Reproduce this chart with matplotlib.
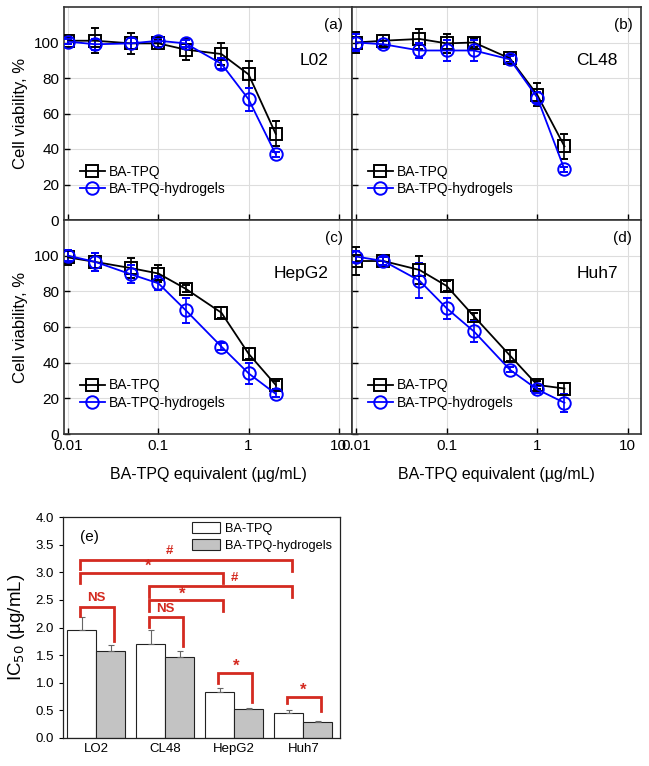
import numpy as np
import matplotlib
matplotlib.use("Agg")
import matplotlib.pyplot as plt
from matplotlib.lines import Line2D
from matplotlib.ticker import FixedLocator, FixedFormatter

plt.rcParams['font.family'] = ['Liberation Sans', 'DejaVu Sans']

# ---- viability data ----
conc = [0.01, 0.02, 0.05, 0.1, 0.2, 0.5, 1, 2]

cells = ["L02", "CL48", "HepG2", "Huh7"]
tags = ["(a)", "(b)", "(c)", "(d)"]

tpq_mean = [
    [101, 101, 99.5, 99.5, 96, 93.5, 82, 48.5],
    [100, 101, 102, 99.5, 100, 91, 70.5, 41.5],
    [99, 96.5, 93, 90, 81.5, 68, 45, 27.5],
    [97, 97, 92, 83, 66, 44, 27.5, 25.5],
]
tpq_err = [
    [2, 7, 6, 2, 6, 6, 7.5, 7],
    [6, 3, 5.5, 5.5, 2.5, 2, 6.5, 7],
    [4, 5, 5.5, 5, 2, 3, 3, 2],
    [8, 2, 8, 3, 2, 3, 2, 3],
]
gel_mean = [
    [100.5, 99, 99.5, 101, 99.5, 88, 68, 37],
    [100, 99, 95.5, 95.5, 95.5, 90.5, 69, 28.5],
    [100, 96.5, 89.5, 84.5, 69.5, 49, 34, 22.5],
    [99.5, 97, 86, 70.5, 57.5, 36, 25, 17.5],
]
gel_err = [
    [1.5, 3, 3, 1.5, 2, 3, 6.5, 1.5],
    [5, 2, 4, 6, 6, 2, 3, 1.5],
    [3, 5, 5, 4, 7, 2, 6, 2],
    [3, 2, 10, 6, 6, 1.5, 2, 5],
]

# ---- IC50 data ----
lines_e = ["LO2", "CL48", "HepG2", "Huh7"]
ic50_tpq = [1.95, 1.71, 0.84, 0.46]
ic50_tpq_err = [0.24, 0.25, 0.07, 0.04]
ic50_gel = [1.58, 1.47, 0.53, 0.29]
ic50_gel_err = [0.10, 0.11, 0.02, 0.01]

# significance brackets: (group_a, bar_a, group_b, bar_b, top, left_end, right_end, label_x, label)
brackets = [
    (0, 0, 3, 0, 3.23, 3.05, 3.03, 1.06, "#"),
    (0, 0, 2, 0, 2.99, 2.80, 2.80, 0.75, "*"),
    (1, 0, 3, 0, 2.75, 2.56, 2.55, 2.00, "#"),
    (1, 0, 2, 0, 2.49, 2.29, 2.29, 1.25, "*"),
    (0, 0, 0, 1, 2.38, 2.20, 1.75, 0.00, "NS"),
    (1, 0, 1, 1, 2.19, 2.01, 1.66, 1.00, "NS"),
    (2, 0, 2, 1, 1.18, 1.00, 0.66, 2.03, "*"),
    (3, 0, 3, 1, 0.75, 0.63, 0.48, 3.00, "*"),
]

fig = plt.figure(figsize=(6.49, 7.66), dpi=100)

L, M, R = 64 / 649, 352 / 649, 641 / 649
T, MID, B = 1 - 7 / 766, 1 - 220 / 766, 1 - 434 / 766
boxes = [
    [L, MID, M - L, T - MID],
    [M, MID, R - M, T - MID],
    [L, B, M - L, MID - B],
    [M, B, R - M, MID - B],
]

style_tpq = dict(color="black", marker="s", ms=8.5, mfc="none", mew=1.4, lw=1.3)
style_gel = dict(color="#0000ff", marker="o", ms=9, mfc="none", mew=1.4, lw=1.3)

for k, box in enumerate(boxes):
    ax = fig.add_axes(box)
    ax.errorbar(conc, tpq_mean[k], yerr=tpq_err[k], capsize=3, elinewidth=1.2,
                capthick=1.2, zorder=3, **style_tpq)
    ax.errorbar(conc, gel_mean[k], yerr=gel_err[k], capsize=3, elinewidth=1.2,
                capthick=1.2, zorder=3, **style_gel)
    ax.set_xscale("log")
    ax.set_xlim(0.009, 14)
    ax.set_ylim(0, 120)
    ax.xaxis.set_major_locator(FixedLocator([0.01, 0.1, 1, 10]))
    ax.xaxis.set_minor_locator(FixedLocator([]))
    ax.set_yticks([0, 20, 40, 60, 80, 100])
    ax.grid(True, color="#dddddd", lw=0.8, zorder=0)
    ax.tick_params(direction="in", length=4, labelsize=11, width=1)
    for s in ax.spines.values():
        s.set_color("#333333")
        s.set_linewidth(1.2)
    if k in (0, 2):
        ax.set_ylabel("Cell viability, %", fontsize=12, labelpad=4)
    else:
        ax.tick_params(labelleft=False)
    if k in (2, 3):
        ax.xaxis.set_major_formatter(FixedFormatter(["0.01", "0.1", "1", "10"]))
        ax.set_xlabel("BA-TPQ equivalent (µg/mL)", fontsize=11.5, labelpad=10)
    else:
        ax.tick_params(labelbottom=False)
    ax.text(0.97, 0.95, tags[k], transform=ax.transAxes, ha="right", va="top", fontsize=11)
    ax.text(0.92, 0.75, cells[k], transform=ax.transAxes, ha="right", va="center", fontsize=12.5)
    handles = [Line2D([], [], **style_tpq), Line2D([], [], **style_gel)]
    ax.legend(handles, ["BA-TPQ", "BA-TPQ-hydrogels"], loc="lower left",
              bbox_to_anchor=(0.03, 0.08), frameon=False, fontsize=10,
              handlelength=1.8, handletextpad=0.3, labelspacing=0.25, borderpad=0)

# ---- panel (e) ----
axe = fig.add_axes([63 / 649, 1 - 738 / 766, (340 - 63) / 649, (738 - 517) / 766])
x = np.arange(len(lines_e))
w = 0.42
off = [-w / 2, w / 2]
axe.bar(x - w / 2, ic50_tpq, w, color="white", edgecolor="#222222", lw=0.8,
        label="BA-TPQ", zorder=2)
axe.bar(x + w / 2, ic50_gel, w, color="#c3c3c3", edgecolor="#222222", lw=0.8,
        label="BA-TPQ-hydrogels", zorder=2)
axe.errorbar(x - w / 2, ic50_tpq, yerr=[np.zeros(4), ic50_tpq_err], fmt="none",
             ecolor="#666666", elinewidth=0.8, capsize=2, capthick=0.8, zorder=3)
axe.errorbar(x + w / 2, ic50_gel, yerr=[np.zeros(4), ic50_gel_err], fmt="none",
             ecolor="#666666", elinewidth=0.8, capsize=2, capthick=0.8, zorder=3)

red = "#d42a20"
for ga, ba, gb, bb, top, yl, yr, lx, lab in brackets:
    xa = ga + off[ba] - 0.03
    xb = gb + off[bb] + 0.05
    axe.plot([xa, xa, xb, xb], [yl, top, top, yr], color=red, lw=2,
             solid_joinstyle="miter", zorder=4)
    if lab == "*":
        axe.text(lx, top - 0.02, lab, color=red, fontsize=12, fontweight="bold",
                 ha="center", va="bottom")
    else:
        axe.text(lx, top + 0.04, lab, color=red, fontsize=9.5, fontweight="bold",
                 ha="center", va="bottom")

axe.set_xlim(-0.48, 3.53)
axe.set_ylim(0, 4.0)
axe.set_yticks(np.arange(0, 4.01, 0.5))
axe.set_yticklabels([f"{v:.1f}" for v in np.arange(0, 4.01, 0.5)])
axe.set_xticks(x)
axe.set_xticklabels(lines_e)
axe.tick_params(axis="both", labelsize=9.5, length=3, width=0.8)
axe.tick_params(axis="x", length=0)
for s in axe.spines.values():
    s.set_linewidth(0.9)
    s.set_color("#222222")
axe.set_ylabel("IC$_{50}$ (µg/mL)", fontsize=13.5, labelpad=6)
axe.text(0.06, 0.94, "(e)", transform=axe.transAxes, fontsize=11, va="top")
axe.legend(loc="upper right", bbox_to_anchor=(1.0, 1.01), frameon=False, fontsize=9.2,
           handlelength=2.2, handleheight=0.9, labelspacing=0.3, borderpad=0.1,
           handletextpad=0.4)

fig.savefig("out.png", dpi=100)
